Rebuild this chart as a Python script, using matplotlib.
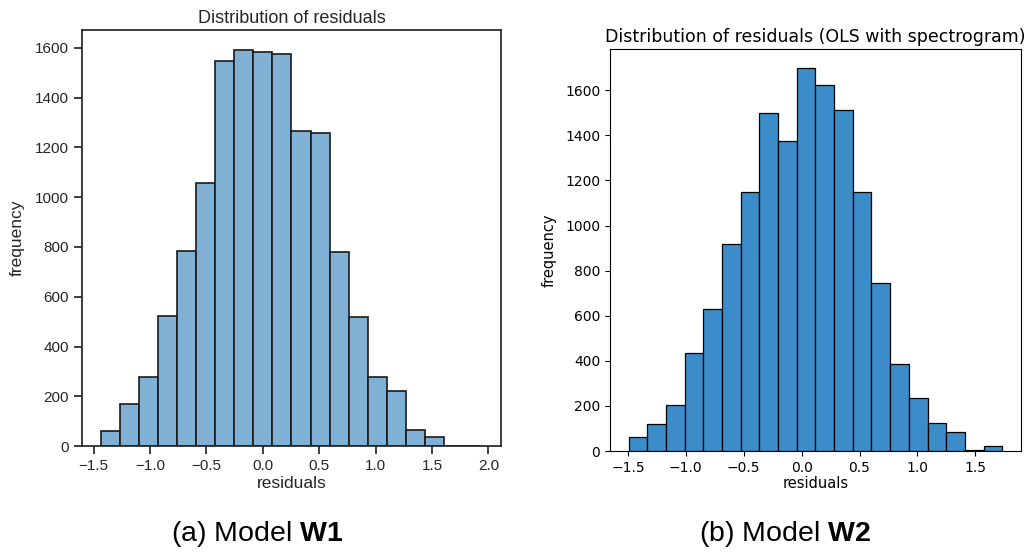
import matplotlib.pyplot as plt
import numpy as np

# Model W1: 20 bins of residuals
w1_range = (-1.435, 1.943)
w1_counts = [62, 168, 277, 522, 784, 1059, 1549, 1592, 1585, 1577,
             1268, 1259, 780, 518, 279, 221, 64, 36, 2, 2]

# Model W2: 20 bins of residuals (OLS with spectrogram)
w2_range = (-1.494, 1.733)
w2_counts = [60, 119, 203, 433, 628, 917, 1147, 1499, 1375, 1698,
             1625, 1514, 1147, 747, 385, 237, 124, 84, 6, 21]

plt.rcParams['font.family'] = ['Liberation Sans', 'DejaVu Sans']
plt.rcParams['mathtext.fontset'] = 'custom'
plt.rcParams['mathtext.rm'] = 'Liberation Sans'
plt.rcParams['mathtext.bf'] = 'Liberation Sans:bold'

fig = plt.figure(figsize=(10.3, 5.56), dpi=100)

# ---- left panel (seaborn "ticks" look) ----
gray = "#262626"
ax1 = fig.add_axes([0.0796, 0.1978, 0.4068, 0.748])
edges1 = np.linspace(w1_range[0], w1_range[1], len(w1_counts) + 1)
ax1.hist(edges1[:-1], bins=edges1, weights=w1_counts,
         color="#80b1d4", edgecolor="#1a1a1a", linewidth=1.2)
ax1.set_xticks([-1.5, -1.0, -0.5, 0.0, 0.5, 1.0, 1.5, 2.0])
ax1.set_yticks(range(0, 1601, 200))
for s in ax1.spines.values():
    s.set_color(gray)
    s.set_linewidth(1.25)
ax1.tick_params(colors=gray, labelcolor=gray, length=6, width=1.25,
                labelsize=11)
ax1.set_title("Distribution of residuals", fontsize=13, color=gray, pad=5)
ax1.set_xlabel("residuals", fontsize=12.5, color=gray, labelpad=2)
ax1.set_ylabel("frequency", fontsize=12.5, color=gray, labelpad=7)

# ---- right panel (default matplotlib look) ----
ax2 = fig.add_axes([0.5922, 0.1888, 0.399, 0.723])
edges2 = np.linspace(w2_range[0], w2_range[1], len(w2_counts) + 1)
ax2.hist(edges2[:-1], bins=edges2, weights=w2_counts,
         color="#3b8cc8", edgecolor="black", linewidth=0.9)
ax2.set_xticks([-1.5, -1.0, -0.5, 0.0, 0.5, 1.0, 1.5])
ax2.set_yticks(range(0, 1601, 200))
ax2.tick_params(labelsize=10, length=3.5, labelfontfamily="DejaVu Sans")
ax2.set_title("Distribution of residuals (OLS with spectrogram)",
              family="DejaVu Sans", fontsize=12.5, pad=5)
ax2.set_xlabel("residuals", family="DejaVu Sans", fontsize=10.5, labelpad=1)
ax2.set_ylabel("frequency", family="DejaVu Sans", fontsize=10.5, labelpad=6)

# ---- captions ----
fig.text(0.2495, 0.04, "(a) Model $\\mathbf{W1}$", ha="center", va="center",
         fontsize=20.5)
fig.text(0.762, 0.04, "(b) Model $\\mathbf{W2}$", ha="center", va="center",
         fontsize=20.5)

fig.savefig("out.png", dpi=100)
